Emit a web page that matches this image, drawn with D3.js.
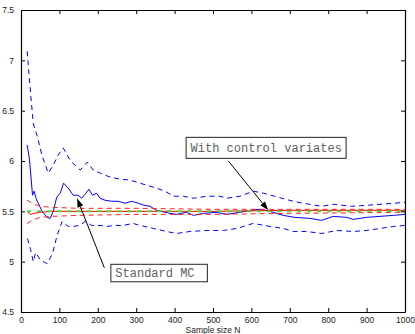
<!DOCTYPE html>
<html>
<head>
<meta charset="utf-8">
<script src="https://cdn.jsdelivr.net/npm/d3@7"></script>
<style>
  body { margin: 0; background: #fff; }
  .tick text { font-family: "Liberation Sans", Arial, sans-serif; font-size: 8.5px; fill: #222; }
</style>
</head>
<body>
<script>

// standard Monte Carlo estimate with its confidence band
var mcN    = [16, 22, 30, 34, 40, 55, 68, 76, 84, 93, 102, 111, 123, 136, 149, 158, 167, 177, 186, 197, 206, 219, 236, 253, 271, 288, 306, 320, 336, 353, 388, 405, 431, 449, 475, 510, 536, 570, 596, 622, 648, 683, 713, 753, 783, 813, 848, 865, 900, 935, 970, 1000];
var mcMean = [6.16, 6.02, 5.66, 5.70, 5.62, 5.50, 5.44, 5.43, 5.50, 5.64, 5.68, 5.78, 5.73, 5.66, 5.66, 5.63, 5.67, 5.72, 5.66, 5.68, 5.63, 5.61, 5.60, 5.60, 5.58, 5.60, 5.58, 5.56, 5.55, 5.51, 5.48, 5.47, 5.49, 5.46, 5.48, 5.49, 5.47, 5.49, 5.51, 5.52, 5.50, 5.46, 5.44, 5.43, 5.41, 5.45, 5.44, 5.42, 5.44, 5.45, 5.46, 5.47];

var mcUpN = [16, 25, 32, 42, 55, 71, 84, 97, 110, 123, 132, 154, 173, 188, 206, 232, 258, 284, 301, 327, 353, 375, 397, 423, 449, 484, 518, 536, 570, 605, 631, 661, 679, 709, 735, 783, 813, 861, 900, 935, 970, 1000];
var mcUp  = [7.09, 6.67, 6.37, 6.25, 6.05, 5.88, 5.96, 6.06, 6.13, 6.04, 5.99, 5.91, 5.99, 5.91, 5.88, 5.84, 5.82, 5.81, 5.79, 5.76, 5.73, 5.70, 5.65, 5.65, 5.63, 5.65, 5.65, 5.63, 5.65, 5.70, 5.68, 5.65, 5.63, 5.60, 5.58, 5.55, 5.57, 5.55, 5.56, 5.57, 5.58, 5.59];

var mcLoN = [17, 25, 32, 38, 50, 68, 82, 94, 107, 123, 136, 154, 167, 184, 206, 223, 245, 266, 292, 310, 345, 379, 405, 440, 484, 527, 562, 605, 648, 683, 709, 744, 783, 822, 865, 900, 935, 970, 1000];
var mcLo  = [5.23, 5.12, 5.00, 5.09, 5.02, 4.98, 5.08, 5.26, 5.40, 5.35, 5.35, 5.36, 5.40, 5.36, 5.36, 5.35, 5.36, 5.36, 5.38, 5.36, 5.33, 5.30, 5.28, 5.30, 5.31, 5.31, 5.33, 5.38, 5.35, 5.33, 5.30, 5.30, 5.28, 5.31, 5.30, 5.31, 5.33, 5.35, 5.36];

// control variates estimate with its band
var cvN    = [16, 25, 35, 50, 80, 150, 300, 500, 700, 1000];
var cvMean = [5.50, 5.47, 5.48, 5.49, 5.50, 5.50, 5.50, 5.50, 5.51, 5.51];
var cvUp   = [5.61, 5.59, 5.57, 5.55, 5.54, 5.53, 5.53, 5.52, 5.52, 5.52];
var cvLo   = [5.38, 5.40, 5.42, 5.44, 5.45, 5.46, 5.47, 5.47, 5.48, 5.49];

var trueN = [16, 1000];
var trueValue = 5.5;

var xTicks = [0, 100, 200, 300, 400, 500, 600, 700, 800, 900, 1000];
var yTicks = [4.5, 5, 5.5, 6, 6.5, 7, 7.5];

var svgWidth = 415, svgHeight = 334;
var margin = {top: 10, right: 10, bottom: 22, left: 21},
    width = svgWidth - margin.left - margin.right,
    height = svgHeight - margin.top - margin.bottom;

var svg = d3.select("body").append("svg").attr("width", svgWidth).attr("height", svgHeight);
var g = svg.append("g").attr("transform", `translate(${margin.left},${margin.top})`);

var x = d3.scaleLinear().domain([0, 1000]).range([0, width]);
var y = d3.scaleLinear().domain([4.5, 7.5]).range([height, 0]);

g.append("clipPath").attr("id", "clip")
  .append("rect").attr("width", width).attr("height", height);

var plot = g.append("g").attr("clip-path", "url(#clip)");

function drawLine(ns, vs, color, dash, w) {
  var pts = ns.map(function(n, i) { return [n, vs[i]]; });
  var line = d3.line().x(function(d) { return x(d[0]); }).y(function(d) { return y(d[1]); });
  plot.append("path")
    .datum(pts)
    .attr("d", line)
    .attr("fill", "none")
    .attr("stroke", color)
    .attr("stroke-width", w)
    .attr("stroke-dasharray", dash);
}

drawLine(mcUpN, mcUp, "#0000ff", "5,4", 1);
drawLine(mcLoN, mcLo, "#0000ff", "5,4", 1);
drawLine(mcN, mcMean, "#0000ff", null, 1);
drawLine(cvN, cvUp, "#ff2020", "5,4", 1);
drawLine(cvN, cvLo, "#ff2020", "5,4", 1);
drawLine(cvN, cvMean, "#ff0000", null, 1);
drawLine(trueN, trueN.map(function() { return trueValue; }), "#44dd22", "4,6", 2);

// axes, MATLAB style: box with inward ticks on all four sides
g.append("g")
  .attr("class", "x axis")
  .attr("transform", `translate(0,${height})`)
  .call(d3.axisBottom(x).tickValues(xTicks).tickSizeInner(-4).tickSizeOuter(0).tickPadding(4.5).tickFormat(d3.format("d")));
g.append("g")
  .attr("transform", "translate(0,0)")
  .call(d3.axisTop(x).tickValues(xTicks).tickSizeInner(-4).tickSizeOuter(0).tickFormat(""));
g.append("g")
  .attr("class", "y axis")
  .call(d3.axisLeft(y).tickValues(yTicks).tickSizeInner(-4).tickSizeOuter(0).tickPadding(7).tickFormat(d3.format("")));
g.append("g")
  .attr("transform", `translate(${width},0)`)
  .call(d3.axisRight(y).tickValues(yTicks).tickSizeInner(-4).tickSizeOuter(0).tickFormat(""));

g.selectAll(".domain").attr("stroke", "#000").attr("stroke-width", 1.2);
g.selectAll(".tick line").attr("stroke", "#000");

g.append("text")
  .attr("x", width / 2)
  .attr("y", height + 21)
  .attr("text-anchor", "middle")
  .attr("font-family", "Liberation Sans, Arial, sans-serif")
  .attr("font-size", "8.5px")
  .attr("fill", "#222")
  .text("Sample size N");

// annotations
function annotate(label, boxN, boxV, boxW, boxH, fromN, fromV, toN, toV) {
  var x1 = x(fromN), y1 = y(fromV), x2 = x(toN), y2 = y(toV);
  var ang = Math.atan2(y2 - y1, x2 - x1), len = 9, hw = 3;
  var bx = x2 - len * Math.cos(ang), by = y2 - len * Math.sin(ang);
  g.append("line")
    .attr("x1", x1).attr("y1", y1).attr("x2", bx).attr("y2", by)
    .attr("stroke", "#000").attr("stroke-width", 1);
  g.append("path")
    .attr("d", "M" + x2 + "," + y2 +
               "L" + (bx + hw * Math.sin(ang)) + "," + (by - hw * Math.cos(ang)) +
               "L" + (bx - hw * Math.sin(ang)) + "," + (by + hw * Math.cos(ang)) + "Z")
    .attr("fill", "#000");
  var bxp = x(boxN), byp = y(boxV);
  g.append("rect")
    .attr("x", bxp).attr("y", byp).attr("width", boxW).attr("height", boxH)
    .attr("fill", "#fff").attr("stroke", "#222").attr("stroke-width", 1);
  g.append("text")
    .attr("x", bxp + 4.5).attr("y", byp + boxH / 2 + 4)
    .attr("font-family", "Liberation Mono, Courier New, monospace")
    .attr("font-size", "12px")
    .attr("fill", "#606060")
    .text(label);
}

annotate("With control variates", 430, 6.235, 160, 21, 540, 6.00, 644, 5.51);
annotate("Standard MC", 234, 4.974, 96.5, 17.5, 217, 4.94, 146, 5.63);

</script>
</body>
</html>
